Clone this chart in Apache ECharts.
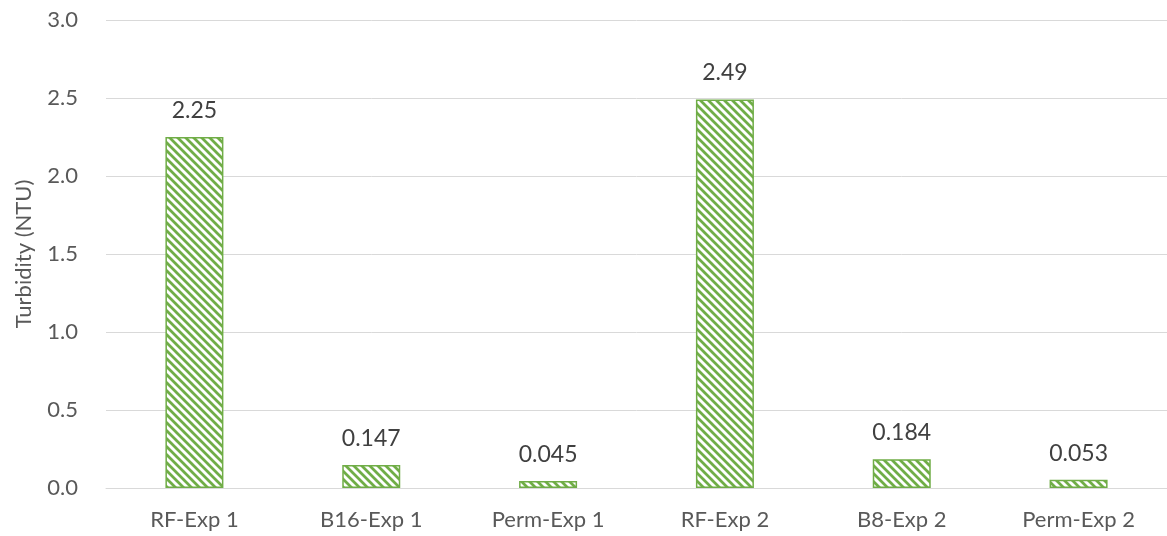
<!DOCTYPE html>
<html>
<head>
<meta charset="utf-8">
<script src="https://cdn.jsdelivr.net/npm/echarts@6/dist/echarts.min.js"></script>
<style>
  html, body { margin: 0; padding: 0; background: #fff; }
  #chart { width: 1167px; height: 536px; }
</style>
</head>
<body>
<div id="chart"></div>
<script>
// Turbidity per sample
const categories = ['RF-Exp 1', 'B16-Exp 1', 'Perm-Exp 1', 'RF-Exp 2', 'B8-Exp 2', 'Perm-Exp 2'];
const turbidity = [2.25, 0.147, 0.045, 2.49, 0.184, 0.053];
const yTicks = [0, 0.5, 1.0, 1.5, 2.0, 2.5, 3.0];

const GREEN = '#70AD47';
const FONT = 'Lato, "Open Sans", sans-serif';

// Diagonal hatch tile (lines running top-left to bottom-right)
function hatchTile() {
  const s = 8;
  const c = document.createElement('canvas');
  c.width = s; c.height = s;
  const g = c.getContext('2d');
  g.fillStyle = '#fff';
  g.fillRect(0, 0, s, s);
  g.strokeStyle = GREEN;
  g.lineWidth = 2.8;
  g.beginPath();
  g.moveTo(-2, -2); g.lineTo(s + 2, s + 2);
  g.moveTo(-2 - s, -2); g.lineTo(2, s + 2);
  g.moveTo(s - 2, -2); g.lineTo(2 * s + 2, s + 2);
  g.stroke();
  return c;
}

const chart = echarts.init(document.getElementById('chart'), null, { renderer: 'canvas' });
chart.setOption({
  animation: false,
  grid: { left: 106, top: 20, width: 1071, height: 468, containLabel: false },
  xAxis: {
    type: 'category',
    data: categories,
    axisLine: { show: true, lineStyle: { color: '#d9d9d9', width: 1 } },
    axisTick: { show: false },
    axisLabel: { color: '#595959', fontSize: 22, fontFamily: FONT, margin: 21 }
  },
  yAxis: {
    type: 'value',
    min: yTicks[0],
    max: yTicks[yTicks.length - 1],
    interval: 0.5,
    name: 'Turbidity (NTU)',
    nameLocation: 'middle',
    nameGap: 71,
    nameRotate: 90,
    nameTextStyle: { color: '#595959', fontSize: 22, fontFamily: FONT },
    axisLine: { show: false },
    axisTick: { show: false },
    splitLine: { lineStyle: { color: '#d9d9d9', width: 1 } },
    axisLabel: {
      color: '#595959', fontSize: 22, fontFamily: FONT, margin: 28,
      formatter: v => v.toFixed(1)
    }
  },
  series: [{
    type: 'bar',
    data: turbidity,
    barWidth: 58,
    itemStyle: {
      color: { image: hatchTile(), repeat: 'repeat' },
      borderColor: GREEN,
      borderWidth: 1.5
    },
    label: {
      show: true,
      position: 'top',
      distance: 15,
      color: '#404040',
      fontSize: 23,
      fontFamily: FONT,
      formatter: p => String(p.value)
    }
  }]
});
</script>
</body>
</html>
